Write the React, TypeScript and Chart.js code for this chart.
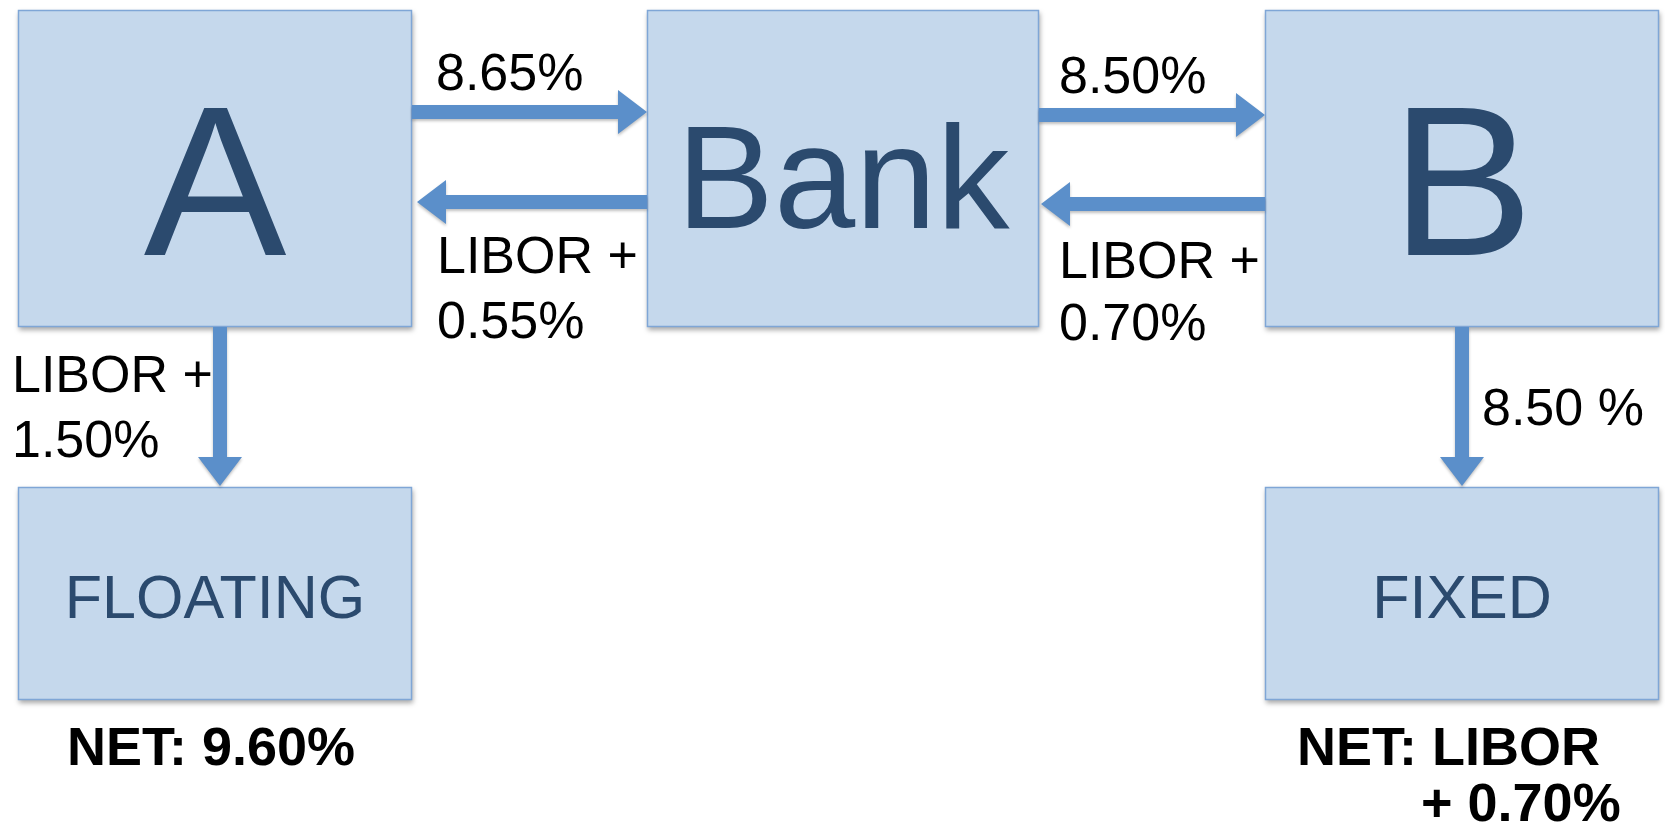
import React, { useEffect, useRef } from "react";
import { Chart, registerables } from "chart.js";

Chart.register(...registerables);

// Diagram coordinates (x to the right, y downward) in a 1665 x 825 frame
const boxNames = ["A", "Bank", "B", "FLOATING", "FIXED"];
const boxLeft = [18, 647, 1265, 18, 1265];
const boxRight = [412, 1039, 1659, 412, 1659];
const boxTop = [10, 10, 10, 487, 487];
const boxBottom = [327, 327, 327, 700, 700];
const boxFontSize = [214, 146, 214, 61, 61];
const boxBaseline = [255, 228, 255, 618, 618];

const arrowFromX = [412, 647, 1039, 1265, 220, 1462];
const arrowFromY = [112, 202, 115, 204, 327, 327];
const arrowToX = [647, 417, 1265, 1041, 220, 1462];
const arrowToY = [112, 202, 115, 204, 486, 486];

const labelTexts = [
  "8.65%",
  "LIBOR +",
  "0.55%",
  "8.50%",
  "LIBOR +",
  "0.70%",
  "LIBOR +",
  "1.50%",
  "8.50 %",
  "NET: 9.60%",
  "NET: LIBOR",
  "+ 0.70%",
];
const labelX = [436, 437, 437, 1059, 1059, 1059, 12, 12, 1482, 67, 1297, 1421];
const labelY = [90, 273, 338, 93, 278, 340, 392, 457, 425, 765, 765, 821];
const labelBold = [false, false, false, false, false, false, false, false, false, true, true, true];

const BOX_FILL = "#c5d8ec";
const BOX_BORDER = "#7fa6d6";
const BOX_TEXT = "#2b4a6e";
const ARROW = "#5b8fca";
const FONT = "'Liberation Sans', Arial, Helvetica, sans-serif";

const diagramPlugin = {
  id: "diagram",
  afterDatasetsDraw(chart: any) {
    const ctx = chart.ctx as CanvasRenderingContext2D;
    const xs = chart.scales.x;
    const ys = chart.scales.y;
    const px = (v: number) => xs.getPixelForValue(v);
    const py = (v: number) => ys.getPixelForValue(v);

    // boxes
    for (let i = 0; i < boxNames.length; i++) {
      const x0 = px(boxLeft[i]);
      const x1 = px(boxRight[i]);
      const y0 = py(boxTop[i]);
      const y1 = py(boxBottom[i]);
      ctx.save();
      ctx.shadowColor = "rgba(0,0,0,0.35)";
      ctx.shadowBlur = 5;
      ctx.shadowOffsetX = 1;
      ctx.shadowOffsetY = 3;
      ctx.fillStyle = BOX_FILL;
      ctx.fillRect(x0, y0, x1 - x0, y1 - y0);
      ctx.restore();
      ctx.save();
      ctx.strokeStyle = BOX_BORDER;
      ctx.lineWidth = 1.5;
      ctx.strokeRect(x0 + 0.5, y0 + 0.5, x1 - x0 - 1, y1 - y0 - 1);
      ctx.fillStyle = BOX_TEXT;
      ctx.font = `${boxFontSize[i]}px ${FONT}`;
      ctx.textAlign = "center";
      ctx.textBaseline = "alphabetic";
      ctx.fillText(boxNames[i], (x0 + x1) / 2, py(boxBaseline[i]));
      ctx.restore();
    }

    // arrows
    const shaft = 14;
    const headLen = 29;
    const headHalf = 22;
    for (let i = 0; i < arrowFromX.length; i++) {
      const ax = px(arrowFromX[i]);
      const ay = py(arrowFromY[i]);
      const bx = px(arrowToX[i]);
      const by = py(arrowToY[i]);
      const len = Math.hypot(bx - ax, by - ay);
      const ang = Math.atan2(by - ay, bx - ax);
      ctx.save();
      ctx.translate(ax, ay);
      ctx.rotate(ang);
      ctx.shadowColor = "rgba(0,0,0,0.25)";
      ctx.shadowBlur = 3;
      ctx.shadowOffsetX = 0;
      ctx.shadowOffsetY = 2;
      ctx.fillStyle = ARROW;
      ctx.beginPath();
      ctx.moveTo(0, -shaft / 2);
      ctx.lineTo(len - headLen, -shaft / 2);
      ctx.lineTo(len - headLen, -headHalf);
      ctx.lineTo(len, 0);
      ctx.lineTo(len - headLen, headHalf);
      ctx.lineTo(len - headLen, shaft / 2);
      ctx.lineTo(0, shaft / 2);
      ctx.closePath();
      ctx.fill();
      ctx.restore();
    }

    // labels
    for (let i = 0; i < labelTexts.length; i++) {
      ctx.save();
      ctx.fillStyle = "#000000";
      ctx.font = labelBold[i] ? `bold 54px ${FONT}` : `52px ${FONT}`;
      ctx.textAlign = "left";
      ctx.textBaseline = "alphabetic";
      ctx.fillText(labelTexts[i], px(labelX[i]), py(labelY[i]));
      ctx.restore();
    }
  },
};

export default function App() {
  const canvasRef = useRef<HTMLCanvasElement | null>(null);

  useEffect(() => {
    document.body.style.margin = "0";
    document.body.style.background = "#ffffff";
    const canvas = canvasRef.current;
    if (!canvas) return;
    const chart = new Chart(canvas, {
      type: "scatter",
      data: {
        datasets: [
          {
            label: "boxes",
            data: boxNames.map((_, i) => ({
              x: (boxLeft[i] + boxRight[i]) / 2,
              y: (boxTop[i] + boxBottom[i]) / 2,
            })),
            pointRadius: 0,
          },
        ],
      },
      options: {
        animation: false,
        responsive: true,
        maintainAspectRatio: false,
        layout: { padding: 0 },
        events: [],
        plugins: {
          legend: { display: false },
          tooltip: { enabled: false },
        },
        scales: {
          x: { type: "linear", min: 0, max: 1665, display: false },
          y: { type: "linear", min: 0, max: 825, reverse: true, display: false },
        },
      },
      plugins: [diagramPlugin],
    });
    return () => chart.destroy();
  }, []);

  return (
    <div style={{ width: "1665px", height: "825px", position: "relative" }}>
      <canvas ref={canvasRef} />
    </div>
  );
}
